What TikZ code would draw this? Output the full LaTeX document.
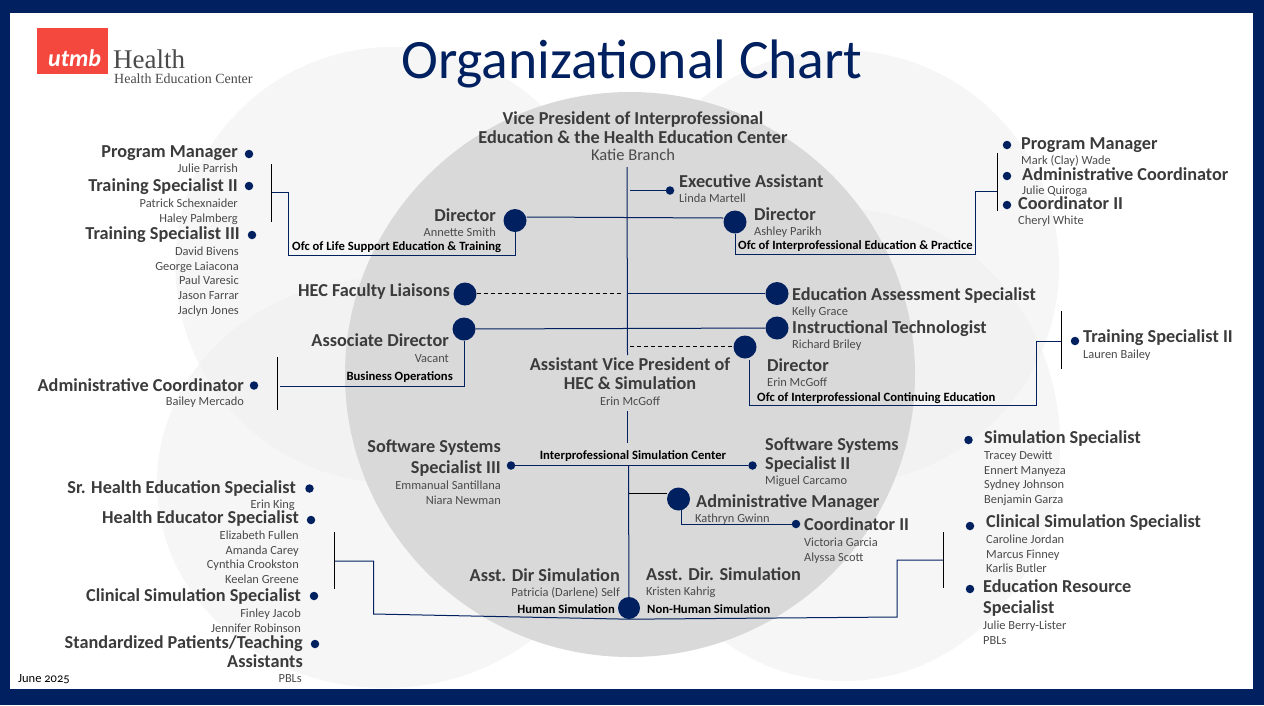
\documentclass[tikz,border=0pt]{standalone}
\usepackage{fontspec}
\setmainfont{Carlito}
\newfontfamily\serifA{Liberation Serif}
\newfontfamily\oldnum[Numbers=OldStyle]{Carlito}
\definecolor{navy}{HTML}{002060}
\definecolor{heada}{HTML}{3B3B3B}
\definecolor{suba}{HTML}{4A4A4A}
\definecolor{lightc}{HTML}{F6F6F6}
\definecolor{lapc}{HTML}{F2F2F2}
\definecolor{midc}{HTML}{D9D9D9}
\definecolor{logored}{HTML}{F4473D}
\def\cTL{(393,265) ellipse [x radius=217.5,y radius=218]}
\def\cTR{(840,267) ellipse [x radius=219,y radius=217]}
\def\cBL{(385,483) ellipse [x radius=228,y radius=205]}
\def\cBR{(844,445) ellipse [x radius=216,y radius=236]}
\tikzset{
 x=1pt,y=-1pt,
 txt/.style={inner sep=0pt,align=center,text height=0.68em,text depth=0.2em},
 hd/.style={txt,yshift=-3.5pt,font=\fontsize{18.25}{18.25}\selectfont\bfseries,text=heada},
 sb/.style={txt,yshift=-2pt,font=\fontsize{12.4}{12.4}\selectfont,text=suba},
 un/.style={txt,yshift=-2pt,font=\fontsize{12.65}{12.65}\selectfont\bfseries,text=black},
 dotsm/.style={circle,fill=navy,inner sep=0pt,minimum size=8.5pt},
 dotbg/.style={circle,fill=navy,inner sep=0pt,minimum size=23pt},
 link/.style={draw=navy,line width=1pt},
 brack/.style={draw=black,line width=1pt},
 dashlink/.style={draw=black,line width=0.8pt,dash pattern=on 4pt off 3pt},
}
\begin{document}
\begin{tikzpicture}
\useasboundingbox (0,0) rectangle (1264,705);
\fill[navy] (0,0) rectangle (1264,705);
\fill[white] (10,13) rectangle (1253,689);
\fill[lightc] \cTL;
\fill[lightc] \cTR;
\fill[lightc] \cBL;
\fill[lightc] \cBR;
\begin{scope}\clip \cTL; \fill[lapc] \cTR; \fill[lapc] \cBL; \fill[lapc] \cBR; \end{scope}
\begin{scope}\clip \cTR; \fill[lapc] \cBL; \fill[lapc] \cBR; \end{scope}
\begin{scope}\clip \cBL; \fill[lapc] \cBR; \end{scope}
\fill[midc] (630,374.5) ellipse [x radius=285,y radius=282.5];

% logo
\node[fill=logored,minimum width=70.5pt,minimum height=45.5pt,inner sep=0pt,anchor=north west] (logo) at (37,28) {};
\node[txt,anchor=west,text=white,font=\fontsize{24}{24}\selectfont\bfseries\itshape] (utmb) at (48,64) {utmb};
\node[txt,anchor=west,text=suba,font=\serifA\fontsize{27}{27}\selectfont] (hlth) at (113,66) {Health};
\node[txt,anchor=west,text=suba,font=\serifA\fontsize{14}{14}\selectfont] (hec) at (114,81) {Health Education Center};

% title
\node[txt,text=navy,font=\fontsize{55.6}{55.6}\selectfont] (title) at (632,76) {Organizational Chart};

% VP
\node[hd] (vp1) at (633,119) {Vice President of Interprofessional};
\node[hd] (vp2) at (633,138) {Education \& the Health Education Center};
\node[sb,font=\fontsize{16.5}{16.5}\selectfont] (vp3) at (633,156) {Katie Branch};

% upper-left group
\node[hd,anchor=east] (pm1) at (238,152) {Program Manager};
\node[dotsm] (pm1d) at (249,154) {};
\node[sb,anchor=east] (pm1n) at (238,168) {Julie Parrish};
\node[hd,anchor=east] (ts2) at (238,186) {Training Specialist II};
\node[dotsm] (ts2d) at (249,186) {};
\node[sb,anchor=east] (ts2n1) at (238,203) {Patrick Schexnaider};
\node[sb,anchor=east] (ts2n2) at (238,218) {Haley Palmberg};
\node[hd,anchor=east] (ts3) at (240,234) {Training Specialist III};
\node[dotsm] (ts3d) at (252,235) {};
\node[sb,anchor=east] (ts3n1) at (239,251) {David Bivens};
\node[sb,anchor=east] (ts3n2) at (239,266) {George Laiacona};
\node[sb,anchor=east] (ts3n3) at (239,280) {Paul Varesic};
\node[sb,anchor=east] (ts3n4) at (239,295) {Jason Farrar};
\node[sb,anchor=east] (ts3n5) at (239,310) {Jaclyn Jones};
\coordinate (bkA1) at (271.5,164);
\coordinate (bkA2) at (271.5,222);
\coordinate (bkAm) at (271.5,192);
\coordinate (bkAe) at (288,255);
\draw[brack] (bkA1) -- (bkA2);

% Director Annette
\node[hd,anchor=east] (dirA) at (496,216) {Director};
\node[sb,anchor=east] (dirAn) at (496,232) {Annette Smith};
\node[dotbg] (dirAd) at (515,220.5) {};
\node[un,anchor=west] (dirAu) at (292,246) {Ofc of Life Support Education \& Training};
\draw[link] (bkAm) -| (bkAe) -| (dirAd.south);

% Director Ashley
\node[dotbg] (dirB) at (735,222) {};
\node[hd,anchor=west] (dirBt) at (754,214.5) {Director};
\node[sb,anchor=west] (dirBn) at (754,231) {Ashley Parikh};
\node[un,anchor=west] (dirBu) at (738,245) {Ofc of Interprofessional Education \& Practice};
\draw[link] (dirAd.east |- 0,217) -- (dirB.west |- 0,218);
\coordinate (bkBc) at (975,254);
\coordinate (bkBm) at (997.5,191);
\coordinate (bkB1) at (997.5,153);
\coordinate (bkB2) at (997.5,211);
\draw[link] (dirB.south) |- (bkBc) |- (bkBm);
\draw[brack] (bkB1) -- (bkB2);

% upper-right group
\node[dotsm] (rpmd) at (1007,145) {};
\node[hd,anchor=west] (rpm) at (1021,144) {Program Manager};
\node[sb,anchor=west] (rpmn) at (1021,160) {Mark (Clay) Wade};
\node[dotsm] (racd) at (1007,176) {};
\node[hd,anchor=west] (rac) at (1022,175) {Administrative Coordinator};
\node[sb,anchor=west] (racn) at (1022,190) {Julie Quiroga};
\node[dotsm] (rcod) at (1007,205) {};
\node[hd,anchor=west] (rco) at (1018,204) {Coordinator II};
\node[sb,anchor=west] (rcon) at (1018,220) {Cheryl White};

% Exec assistant
\node[dotsm] (exd) at (670,190.5) {};
\node[hd,anchor=west] (ex) at (679,182) {Executive Assistant};
\node[sb,anchor=west] (exn) at (679,198) {Linda Martell};
\coordinate (spE) at (630,190.5);
\draw[link] (spE) -- (exd);

% spine
\coordinate (spA) at (627,167);
\coordinate (spB) at (627.5,355);
\draw[link] (spA) -- (spB);

% Faculty liaisons + Ed assessment
\node[hd,anchor=east] (fl) at (450,291) {HEC Faculty Liaisons};
\node[dotbg] (fld) at (465,294) {};
\coordinate (flm) at (622,293.5);
\coordinate (flm2) at (627,293.5);
\node[dotbg] (ead) at (777,293.5) {};
\node[hd,anchor=west] (ea) at (792,295) {Education Assessment Specialist};
\node[sb,anchor=west] (ean) at (792,311) {Kelly Grace};
\draw[dashlink] (fld.east |- flm) -- (flm);
\draw[link] (flm2) -- (ead);

% Assoc director + Instr tech
\node[dotbg] (add) at (464,329) {};
\node[hd,anchor=east] (ad) at (449,341) {Associate Director};
\node[sb,anchor=east] (adn) at (449,358) {Vacant};
\node[un,anchor=east] (adu) at (453,376) {Business Operations};
\node[dotbg] (itd) at (777,328) {};
\node[hd,anchor=west] (it) at (792,328) {Instructional Technologist};
\node[sb,anchor=west] (itn) at (792,344) {Richard Briley};
\draw[link] (add) -- (itd);
\coordinate (bkCm) at (280,386);
\coordinate (bkC1) at (277.5,357);
\coordinate (bkC2) at (277.5,410);
\draw[link] (add.south) |- (bkCm);
\draw[brack] (bkC1) -- (bkC2);
\node[hd,anchor=east] (ac) at (244,385.5) {Administrative Coordinator};
\node[dotsm] (acd) at (254,385.5) {};
\node[sb,anchor=east] (acn) at (244,401) {Bailey Mercado};

% Director Erin
\node[dotbg] (dirC) at (745,347) {};
\coordinate (spD) at (630,346);
\draw[dashlink] (spD) -- (dirC.west |- spD);
\node[hd,anchor=west] (dirCt) at (767,366) {Director};
\node[sb,anchor=west] (dirCn) at (767,382) {Erin McGoff};
\node[un,anchor=west] (dirCu) at (757,397) {Ofc of Interprofessional Continuing Education};
\coordinate (dirCs) at (749.5,360);
\coordinate (bkDc) at (1036,405);
\coordinate (bkDm) at (1061.5,341);
\coordinate (bkD1) at (1061.5,311);
\coordinate (bkD2) at (1061.5,369);
\draw[link] (dirCs) |- (bkDc) |- (bkDm);
\draw[brack] (bkD1) -- (bkD2);
\node[dotsm] (rtsd) at (1075,341) {};
\node[hd,anchor=west] (rts) at (1083,337) {Training Specialist II};
\node[sb,anchor=west] (rtsn) at (1083,354) {Lauren Bailey};

% AVP
\node[hd] (avp1) at (630,365) {Assistant Vice President of};
\node[hd] (avp2) at (630,384) {HEC \& Simulation};
\node[sb] (avp3) at (630,401) {Erin McGoff};
\coordinate (spF) at (627.5,411);
\coordinate (spG) at (627.5,443);
\draw[link] (spF) -- (spG);
\node[un] (isc) at (633,455) {Interprofessional Simulation Center};

% Software systems
\node[hd,anchor=east] (ss3a) at (501,446.5) {Software Systems};
\node[hd,anchor=east] (ss3b) at (501,467.5) {Specialist III};
\node[dotsm] (ss3d) at (511,465.5) {};
\node[sb,anchor=east] (ss3n1) at (501,485) {Emmanual Santillana};
\node[sb,anchor=east] (ss3n2) at (501,500) {Niara Newman};
\node[hd,anchor=west] (ss2a) at (765,445) {Software Systems};
\node[hd,anchor=west] (ss2b) at (765,464) {Specialist II};
\node[dotsm] (ss2d) at (752.5,465.5) {};
\node[sb,anchor=west] (ss2n) at (765,480) {Miguel Carcamo};
\draw[link] (ss3d) -- (ss2d);

% sim spine
\node[dotbg,minimum size=22pt] (sim) at (629,608) {};
\coordinate (spH) at (628.5,465.5);
\draw[link] (spH) -- (sim);

% Admin manager
\node[dotbg] (amd) at (678.5,499) {};
\node[hd,anchor=west] (am) at (696,502) {Administrative Manager};
\node[sb,anchor=west] (amn) at (695,518) {Kathryn Gwinn};
\coordinate (spI) at (629,493);
\draw[brack,line width=0.9pt] (spI) -- (amd.west |- spI);
\node[dotsm] (co2d) at (796,524) {};
\node[hd,anchor=west] (co2) at (804,525) {Coordinator II};
\node[sb,anchor=west] (co2n1) at (804,542) {Victoria Garcia};
\node[sb,anchor=west] (co2n2) at (804,557) {Alyssa Scott};
\coordinate (amds) at (681,510);
\draw[link] (amds) |- (co2d);

% asst dirs
\node[hd,anchor=east] (adh) at (620,576) {Asst. Dir Simulation};
\node[sb,anchor=east] (adhn) at (620,592) {Patricia (Darlene) Self};
\node[un,anchor=east] (adhu) at (615,609) {Human Simulation};
\node[hd,anchor=west] (adn2) at (646,574.5) {Asst. Dir. Simulation};
\node[sb,anchor=west] (adn2n) at (646,591) {Kristen Kahrig};
\node[un,anchor=west] (adn2u) at (647,609) {Non-Human Simulation};

% sim brackets
\coordinate (bkEc) at (373.5,614);
\coordinate (bkEt) at (373.5,561);
\coordinate (bkEm) at (334,561);
\coordinate (bkE1) at (334,532);
\coordinate (bkE2) at (334,589);
\draw[link] (sim.south) -- (bkEc) -- (bkEt) -- (bkEm);
\draw[brack] (bkE1) -- (bkE2);
\coordinate (bkFc) at (897,617);
\coordinate (bkFt) at (897,560);
\coordinate (bkFm) at (943.5,560);
\coordinate (bkF1) at (943.5,532);
\coordinate (bkF2) at (943.5,588);
\draw[link] (sim.south) -- (bkFc) -- (bkFt) -- (bkFm);
\draw[brack] (bkF1) -- (bkF2);

% lower-left group
\node[hd,anchor=east] (sh) at (296,488) {Sr. Health Education Specialist};
\node[dotsm] (shd) at (309.5,488.5) {};
\node[sb,anchor=east] (shn) at (295,504) {Erin King};
\node[hd,anchor=east] (he) at (299,518) {Health Educator Specialist};
\node[dotsm] (hed) at (311,520) {};
\node[sb,anchor=east] (hen1) at (299,535) {Elizabeth Fullen};
\node[sb,anchor=east] (hen2) at (299,550) {Amanda Carey};
\node[sb,anchor=east] (hen3) at (299,564) {Cynthia Crookston};
\node[sb,anchor=east] (hen4) at (299,579) {Keelan Greene};
\node[hd,anchor=east] (cs) at (301,595.5) {Clinical Simulation Specialist};
\node[dotsm] (csd) at (314,596) {};
\node[sb,anchor=east] (csn1) at (301,613) {Finley Jacob};
\node[sb,anchor=east] (csn2) at (301,628) {Jennifer Robinson};
\node[hd,anchor=east] (sp1) at (303,643) {Standardized Patients/Teaching};
\node[hd,anchor=east] (sp2) at (303,662) {Assistants};
\node[dotsm] (spd) at (315,644) {};
\node[sb,anchor=east] (spn) at (302,678) {PBLs};
\node[txt,yshift=-2pt,anchor=west,text=black,font=\oldnum\fontsize{12.5}{12.5}\selectfont] (date) at (18,678) {June 2025};

% lower-right group
\node[dotsm] (rssd) at (968.5,440) {};
\node[hd,anchor=west] (rss) at (984,437.5) {Simulation Specialist};
\node[sb,anchor=west] (rssn1) at (984,455) {Tracey Dewitt};
\node[sb,anchor=west] (rssn2) at (984,470) {Ennert Manyeza};
\node[sb,anchor=west] (rssn3) at (984,484) {Sydney Johnson};
\node[sb,anchor=west] (rssn4) at (984,499) {Benjamin Garza};
\node[dotsm] (rcsd) at (970,526) {};
\node[hd,anchor=west] (rcs) at (986,521.5) {Clinical Simulation Specialist};
\node[sb,anchor=west] (rcsn1) at (986,539) {Caroline Jordan};
\node[sb,anchor=west] (rcsn2) at (986,554) {Marcus Finney};
\node[sb,anchor=west] (rcsn3) at (986,568) {Karlis Butler};
\node[dotsm] (rerd) at (970,589) {};
\node[hd,anchor=west] (rer1) at (983,587) {Education Resource};
\node[hd,anchor=west] (rer2) at (983,608) {Specialist};
\node[sb,anchor=west] (rern1) at (983,625) {Julie Berry-Lister};
\node[sb,anchor=west] (rern2) at (983,640) {PBLs};
\end{tikzpicture}
\end{document}
